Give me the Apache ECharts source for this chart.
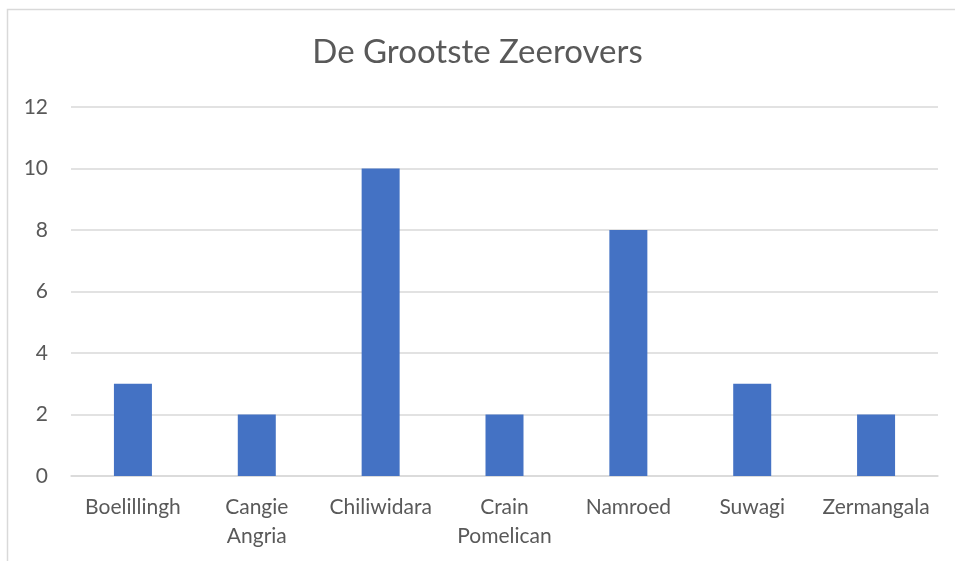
<!DOCTYPE html>
<html>
<head>
<meta charset="utf-8">
<title>De Grootste Zeerovers</title>
<script src="https://cdn.jsdelivr.net/npm/echarts@6/dist/echarts.min.js"></script>
<style>
html, body { margin: 0; padding: 0; background: #fff; }
#container { width: 955px; height: 561px; }
</style>
</head>
<body>
<div id="container"></div>
<script type="text/javascript">
// data
var categories = ['Boelillingh', 'Cangie Angria', 'Chiliwidara', 'Crain Pomelican', 'Namroed', 'Suwagi', 'Zermangala'];
var values = [3, 2, 10, 2, 8, 3, 2];
var yTicks = [0, 2, 4, 6, 8, 10, 12];

var FONT = 'Lato, "Open Sans", sans-serif';

var myChart = echarts.init(document.getElementById('container'));

var option = {
	backgroundColor: '#fff',
	animation: false,
	graphic: [{
		type: 'rect',
		shape: { x: 7.5, y: 9.5, width: 960, height: 570 },
		style: { fill: 'none', stroke: '#d9d9d9', lineWidth: 1.5 },
		silent: true
	}],
	title: {
		text: 'De Grootste Zeerovers',
		left: 'center',
		top: 31,
		textStyle: {
			color: '#595959',
			fontFamily: FONT,
			fontWeight: 'normal',
			fontSize: 33
		}
	},
	grid: {
		left: 71,
		right: 17,
		top: 107,
		bottom: 85
	},
	xAxis: {
		type: 'category',
		data: categories,
		axisLine: { lineStyle: { color: '#d9d9d9', width: 1.5 } },
		axisTick: { show: false },
		axisLabel: {
			interval: 0,
			margin: 17,
			color: '#595959',
			fontFamily: FONT,
			fontSize: 21,
			lineHeight: 29,
			formatter: function (v) { return v.replace(' ', '\n'); }
		}
	},
	yAxis: {
		type: 'value',
		min: yTicks[0],
		max: yTicks[yTicks.length - 1],
		interval: 2,
		axisLine: { show: false },
		axisTick: { show: false },
		splitLine: { lineStyle: { color: '#d9d9d9', width: 1.5 } },
		axisLabel: {
			margin: 23,
			color: '#595959',
			fontFamily: FONT,
			fontSize: 21
		}
	},
	series: [{
		type: 'bar',
		data: values,
		barWidth: 38,
		itemStyle: { color: '#4472c4' }
	}]
};
myChart.setOption(option, true);
</script>
</body>
</html>
